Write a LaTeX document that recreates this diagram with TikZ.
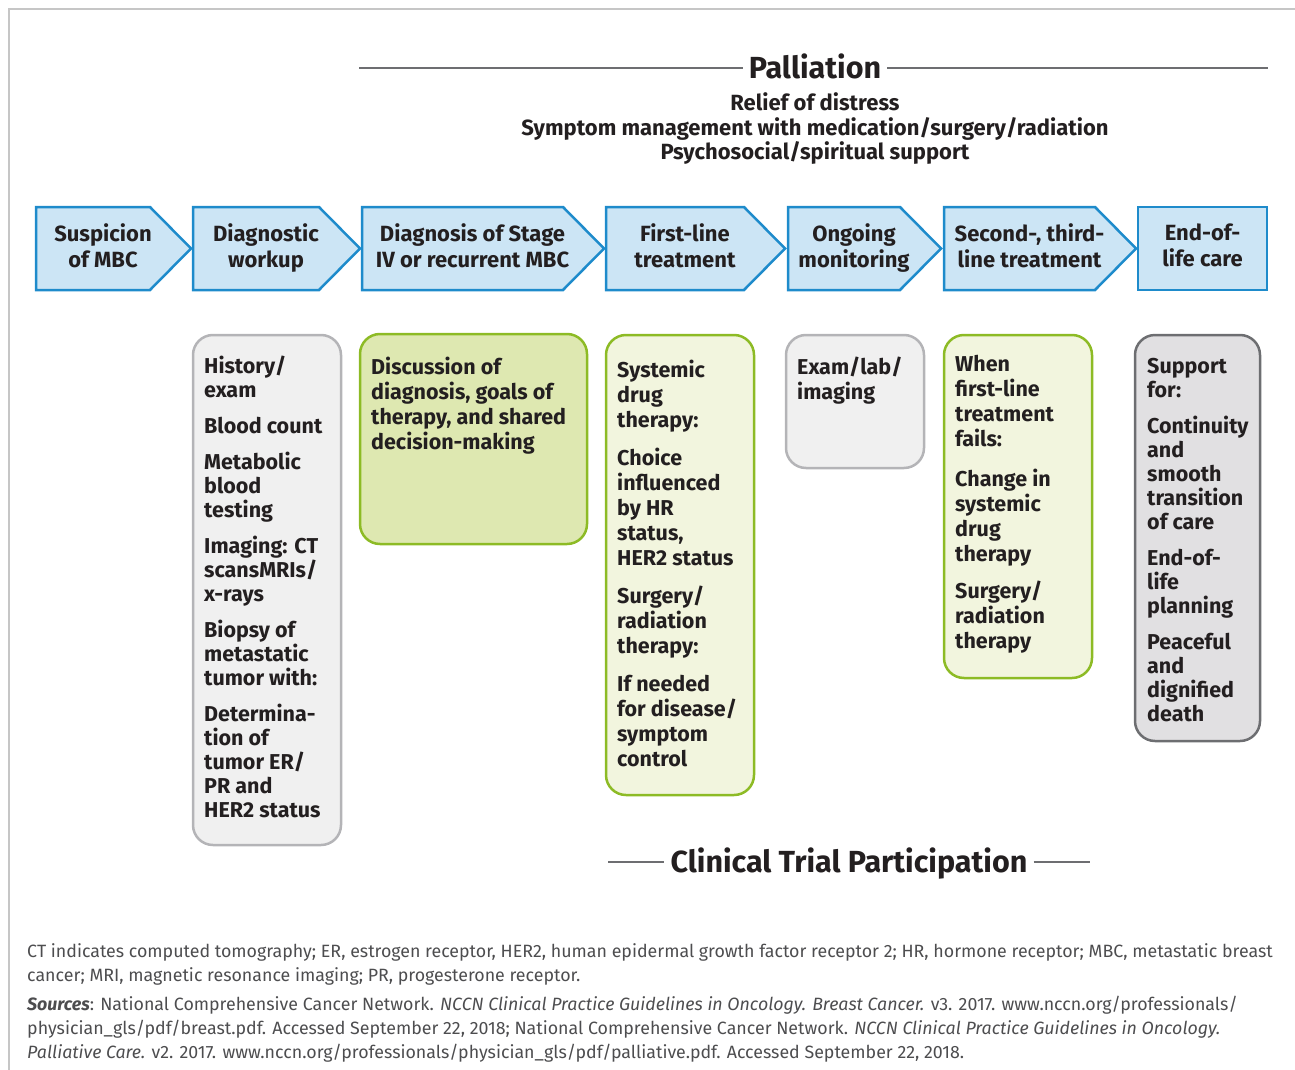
\documentclass[tikz,border=0pt]{standalone}
\usepackage{fontspec}
\setmainfont{Fira Sans}
\usetikzlibrary{positioning}

\definecolor{chevfill}{HTML}{CCE5F5}
\definecolor{chevline}{HTML}{1E8BCB}
\definecolor{ink}{HTML}{231F20}
\definecolor{boxgray}{HTML}{F0F0F0}
\definecolor{linegray}{HTML}{B4B4B7}
\definecolor{boxgreen}{HTML}{DEE8B1}
\definecolor{linegreen}{HTML}{8DBB25}
\definecolor{boxpale}{HTML}{F2F5DE}
\definecolor{boxdark}{HTML}{E1E0E2}
\definecolor{linedark}{HTML}{6D6E71}
\definecolor{framegray}{HTML}{C6C6C6}
\definecolor{notegray}{HTML}{4D4D4F}

\begin{document}
\begin{tikzpicture}[x=1pt,y=-1pt,
    chev/.style={draw=chevline,fill=chevfill,line width=2.5pt,line join=miter},
    chevtxt/.style={text=ink,align=center,inner sep=0pt,font=\fontsize{22}{26}\selectfont\bfseries,
        execute at begin node=\strut,execute at end node=\strut},
    gbox/.style={draw=linegray,fill=boxgray,line width=2.5pt,rounded corners=20pt},
    dbox/.style={draw=linedark,fill=boxdark,line width=2.5pt,rounded corners=20pt},
    grbox/.style={draw=linegreen,fill=boxgreen,line width=2.5pt,rounded corners=20pt},
    pgbox/.style={draw=linegreen,fill=boxpale,line width=2.5pt,rounded corners=20pt},
    boxtxt/.style={text=ink,align=left,inner sep=0pt,anchor=north west,font=\fontsize{21.5}{24}\selectfont\bfseries},
    widetxt/.style={boxtxt,font=\fontsize{21.5}{25}\selectfont\bfseries},
    rule/.style={draw=linedark,line width=1.5pt},
    head/.style={text=ink,inner sep=6pt,font=\fontsize{30.5}{34}\selectfont\bfseries}]

    \useasboundingbox (0,0) rectangle (1295,1070);
    \draw[framegray,line width=1.5pt] (9,1070) -- (9,9) -- (1295,9);

    % palliation heading
    \node[head] (pall) at (815,66) {Palliation};
    \coordinate (pl) at (359,68);
    \coordinate (pr) at (1268,68);
    \draw[rule] (pl) -- (pall.west |- pl);
    \draw[rule] (pall.east |- pr) -- (pr);
    \node[text=ink,align=center,inner sep=0pt,font=\fontsize{22}{24.5}\selectfont\bfseries] (relief) at (815,129)
        {Relief of distress\\Symptom management with medication/surgery/radiation\\Psychosocial/spiritual support};

    % chevrons
    \foreach \nm/\xa/\xb/\txt in {susp/36/150/{Suspicion\\of MBC},
        work/193/319/{Diagnostic\\workup},
        diag/362/563/{Diagnosis of Stage\\IV or recurrent MBC},
        first/606/744/{First-line\\treatment},
        mon/788/900/{Ongoing\\monitoring},
        second/944/1095/{Second-, third-\\line treatment}}{
        \draw[chev] (\xa,207) -- (\xb,207) -- (\xb+41,248.5) -- (\xb,290) -- (\xa,290) -- cycle;
        \node[chevtxt] (\nm) at ({(\xa+\xb+20)/2},249) {\txt};
    }
    \draw[chev] (1138,207) rectangle (1267,290);
    \node[chevtxt] (eol) at (1202.5,249) {End-of-\\life care};

    % detail boxes
    \draw[gbox] (193,335) rectangle (341,845);
    \node[boxtxt] (workdet) at (204,355.5) {History/\\exam\\[12pt]Blood count\\[12pt]Metabolic\\blood\\testing\\[12pt]Imaging: CT\\scansMRIs/\\x-rays\\[12pt]Biopsy of\\metastatic\\tumor with:\\[12pt]Determina-\\tion of\\tumor ER/\\PR and\\HER2 status};

    \draw[grbox] (360,334) rectangle (587,544);
    \node[widetxt] (diagdet) at (371,357) {Discussion of\\diagnosis, goals of\\therapy, and shared\\decision-making};

    \draw[pgbox] (606,335) rectangle (754,795);
    \node[widetxt] (firstdet) at (617,359.5) {Systemic\\drug\\therapy:\\[13pt]Choice\\influenced\\by HR\\status,\\HER2 status\\[13pt]Surgery/\\radiation\\therapy:\\[13pt]If needed\\for disease/\\symptom\\control};

    \draw[gbox] (786,335) rectangle (924,468);
    \node[widetxt] (mondet) at (797,357) {Exam/lab/\\imaging};

    \draw[pgbox] (944,335) rectangle (1092,678);
    \node[widetxt] (seconddet) at (955,355) {When\\first-line\\treatment\\fails:\\[15pt]Change in\\systemic\\drug\\therapy\\[12pt]Surgery/\\radiation\\therapy};

    \draw[dbox] (1135,335) rectangle (1260,741);
    \node[boxtxt] (eoldet) at (1147,358) {Support\\for:\\[12pt]Continuity\\and\\smooth\\transition\\of care\\[12pt]End-of-\\life\\planning\\[12pt]Peaceful\\and\\dignified\\death};

    % clinical trial heading
    \node[head] (ctp) at (849,864) {Clinical Trial Participation};
    \coordinate (cl) at (608,862);
    \coordinate (cr) at (1090,862);
    \draw[rule] (cl) -- (ctp.west |- cl);
    \draw[rule] (ctp.east |- cr) -- (cr);

    % notes
    \node[text=notegray,align=left,inner sep=0pt,anchor=north west,font=\fontsize{17.8}{24}\selectfont] (notes) at (27,943)
        {CT indicates computed tomography; ER, estrogen receptor, HER2, human epidermal growth factor receptor 2; HR, hormone receptor; MBC, metastatic breast\\
        cancer; MRI, magnetic resonance imaging; PR, progesterone receptor.\\[5pt]
        \textbf{\textit{Sources}}: National Comprehensive Cancer Network. \textit{NCCN Clinical Practice Guidelines in Oncology. Breast Cancer.} v3. 2017. www.nccn.org/professionals/\\
        physician\_gls/pdf/breast.pdf. Accessed September 22, 2018; National Comprehensive Cancer Network. \textit{NCCN Clinical Practice Guidelines in Oncology.}\\
        \textit{Palliative Care.} v2. 2017. www.nccn.org/professionals/physician\_gls/pdf/palliative.pdf. Accessed September 22, 2018.};
\end{tikzpicture}
\end{document}
